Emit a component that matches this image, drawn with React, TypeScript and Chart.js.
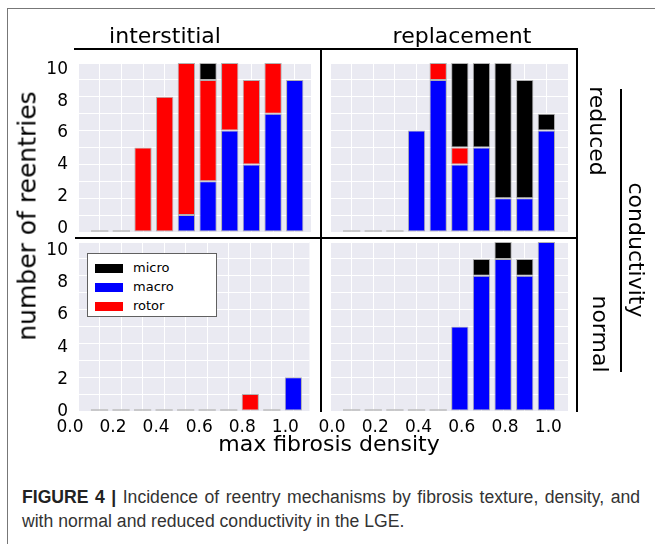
import React, { useEffect, useRef } from 'react';
import { Chart, registerables } from 'chart.js';

Chart.register(...registerables);

// ---------- data ----------
const DENSITIES = [0.1, 0.2, 0.3, 0.4, 0.5, 0.6, 0.7, 0.8, 0.9, 1.0];
const X_GRID_VALUES = [0, 0.1, 0.2, 0.3, 0.4, 0.5, 0.6, 0.7, 0.8, 0.9, 1.0];
const Y_TICK_LABELS = [0, 2, 4, 6, 8, 10];
const LEGEND_NAMES = ['micro', 'macro', 'rotor'];
const LEGEND_COLORS = ['#000000', '#0000ff', '#ff0000'];
const COLUMN_TITLES = ['interstitial', 'replacement'];
const ROW_TITLES = ['reduced', 'normal'];

// interstitial, reduced conductivity
const interReducedMacro = [0, 0, 0, 0, 1, 3, 6, 4, 7, 9];
const interReducedRotor = [0, 0, 5, 8, 9, 6, 4, 5, 3, 0];
const interReducedMicro = [0, 0, 0, 0, 0, 1, 0, 0, 0, 0];
// replacement, reduced conductivity
const replReducedMacro = [0, 0, 0, 6, 9, 4, 5, 2, 2, 6];
const replReducedRotor = [0, 0, 0, 0, 1, 1, 0, 0, 0, 0];
const replReducedMicro = [0, 0, 0, 0, 0, 5, 5, 8, 7, 1];
// interstitial, normal conductivity
const interNormalMacro = [0, 0, 0, 0, 0, 0, 0, 0, 0, 2];
const interNormalRotor = [0, 0, 0, 0, 0, 0, 0, 1, 0, 0];
const interNormalMicro = [0, 0, 0, 0, 0, 0, 0, 0, 0, 0];
// replacement, normal conductivity
const replNormalMacro = [0, 0, 0, 0, 0, 5, 8, 9, 8, 10];
const replNormalRotor = [0, 0, 0, 0, 0, 0, 0, 0, 0, 0];
const replNormalMicro = [0, 0, 0, 0, 0, 0, 1, 1, 1, 0];

// ---------- style ----------
const FONT = '"DejaVu Sans", sans-serif';
const PLOT_BG = '#eaeaf2';
const BAR_EDGE = 'rgba(160,160,160,0.8)';

const bgPlugin = {
  id: 'plotBg',
  beforeDraw(chart: any) {
    const { ctx, chartArea } = chart;
    ctx.save();
    ctx.fillStyle = PLOT_BG;
    ctx.fillRect(chartArea.left, chartArea.top, chartArea.right - chartArea.left, chartArea.bottom - chartArea.top);
    ctx.restore();
  },
};

const zeroPlugin = {
  id: 'zeroBars',
  afterDatasetsDraw(chart: any) {
    const { ctx } = chart;
    const meta = chart.getDatasetMeta(0);
    const y0 = chart.scales.y.getPixelForValue(0);
    ctx.save();
    ctx.strokeStyle = '#bdbdbd';
    ctx.lineWidth = 1.5;
    meta.data.forEach((el: any, i: number) => {
      const total = chart.data.datasets.reduce((s: number, ds: any) => s + ds.data[i].y, 0);
      if (total === 0) {
        ctx.beginPath();
        ctx.moveTo(el.x - el.width / 2, y0 - 1);
        ctx.lineTo(el.x + el.width / 2, y0 - 1);
        ctx.stroke();
      }
    });
    ctx.restore();
  },
};

type PanelDef = {
  area: { l: number; t: number; r: number; b: number };
  macro: number[];
  rotor: number[];
  micro: number[];
  xMax: number;
  showX: boolean;
  showY: boolean;
  leftMargin: number;
  bottomMargin: number;
  xAxisH: number;
  labelOffset: number;
  ylMin: number;
  ylMax: number;
};

const PANELS: PanelDef[] = [
  { area: { l: 78, t: 63, r: 311, b: 232 }, macro: interReducedMacro, rotor: interReducedRotor, micro: interReducedMicro,
    xMax: 1.075, showX: false, showY: true, leftMargin: 60, bottomMargin: 25, xAxisH: 0, labelOffset: 0, ylMin: -0.22, ylMax: 10.4 },
  { area: { l: 330, t: 63, r: 568, b: 232 }, macro: replReducedMacro, rotor: replReducedRotor, micro: replReducedMicro,
    xMax: 1.1, showX: false, showY: false, leftMargin: 20, bottomMargin: 25, xAxisH: 0, labelOffset: 0, ylMin: -0.22, ylMax: 10.4 },
  { area: { l: 78, t: 242, r: 311, b: 411 }, macro: interNormalMacro, rotor: interNormalRotor, micro: interNormalMicro,
    xMax: 1.075, showX: true, showY: true, leftMargin: 60, bottomMargin: 0, xAxisH: 30, labelOffset: -8, ylMin: 0.05, ylMax: 10.5 },
  { area: { l: 330, t: 242, r: 568, b: 411 }, macro: replNormalMacro, rotor: replNormalRotor, micro: replNormalMicro,
    xMax: 1.1, showX: true, showY: false, leftMargin: 20, bottomMargin: 0, xAxisH: 30, labelOffset: 2, ylMin: 0.05, ylMax: 10.5 },
];

const PAD_TOP = 25;
const PAD_RIGHT = 2;

function Panel({ p }: { p: PanelDef }) {
  const ref = useRef<HTMLCanvasElement>(null);
  const left = p.area.l - p.leftMargin;
  const top = p.area.t - PAD_TOP;
  const width = p.area.r + PAD_RIGHT - left;
  const height = p.area.b + p.xAxisH + p.bottomMargin - top;
  const yAxisW = p.showY ? p.leftMargin : 0;

  useEffect(() => {
    const canvas = ref.current!;
    const pts = (arr: number[]) => DENSITIES.map((d, i) => ({ x: d, y: arr[i] }));
    const mk = (label: string, color: string, arr: number[]) => ({
      label,
      data: pts(arr),
      backgroundColor: color,
      borderColor: BAR_EDGE,
      borderWidth: 1,
      borderSkipped: false,
      barPercentage: 0.8,
      categoryPercentage: 1.0,
    });
    const chart = new Chart(canvas, {
      type: 'bar',
      data: {
        datasets: [
          mk('macro', LEGEND_COLORS[1], p.macro),
          mk('rotor', LEGEND_COLORS[2], p.rotor),
          mk('micro', LEGEND_COLORS[0], p.micro),
        ],
      },
      options: {
        animation: false,
        responsive: false,
        events: [],
        layout: {
          padding: { left: p.leftMargin - yAxisW, top: PAD_TOP, right: PAD_RIGHT, bottom: p.bottomMargin },
          autoPadding: false,
        },
        plugins: { legend: { display: false }, tooltip: { enabled: false } },
        scales: {
          x: {
            type: 'linear', min: 0, max: p.xMax, stacked: true, offset: false,
            grid: { offset: false, color: '#ffffff', lineWidth: 1, drawTicks: false },
            border: { display: false },
            afterBuildTicks: (s: any) => { s.ticks = X_GRID_VALUES.map((v) => ({ value: v })); },
            afterFit: (s: any) => { s.height = p.xAxisH; },
            ticks: {
              display: p.showX, autoSkip: false, maxRotation: 0, minRotation: 0, padding: 6,
              labelOffset: p.labelOffset, font: { family: FONT, size: 17 }, color: '#000',
              callback: (v: any) => (Math.round(Number(v) * 10) % 2 === 0 ? Number(v).toFixed(1) : ''),
            },
          },
          y: {
            type: 'linear', min: 0, max: 10, stacked: true, position: 'left', weight: 0,
            grid: { color: '#ffffff', lineWidth: 1, drawTicks: false },
            border: { display: false },
            ticks: { display: false, stepSize: 1 },
            afterFit: (s: any) => { s.width = 0; },
          },
          yl: {
            type: 'linear', position: 'left', weight: 1, display: p.showY, min: p.ylMin, max: p.ylMax,
            grid: { display: false, drawTicks: false },
            border: { display: false },
            afterBuildTicks: (s: any) => { s.ticks = Y_TICK_LABELS.map((v) => ({ value: v })); },
            afterFit: (s: any) => { s.width = yAxisW; },
            ticks: { font: { family: FONT, size: 17 }, color: '#000', padding: 10 },
          },
        },
      } as any,
      plugins: [bgPlugin, zeroPlugin],
    });
    return () => chart.destroy();
  }, []);

  return (
    <canvas
      ref={ref}
      width={width}
      height={height}
      style={{ position: 'absolute', left, top, width, height }}
    />
  );
}

const abs = (x: number, y: number, extra: React.CSSProperties = {}): React.CSSProperties => ({
  position: 'absolute', left: x, top: y, ...extra,
});

function Label({ x, y, text, rot = 0, size = 22 }: { x: number; y: number; text: string; rot?: number; size?: number }) {
  return (
    <div
      style={abs(x, y, {
        transform: `translate(-50%, -50%) rotate(${rot}deg)`,
        fontFamily: FONT, fontSize: size, color: '#000', whiteSpace: 'nowrap', lineHeight: 1,
      })}
    >
      {text}
    </div>
  );
}

function Line({ x, y, w, h }: { x: number; y: number; w: number; h: number }) {
  return <div style={abs(x, y, { width: w, height: h, background: '#000' })} />;
}

export default function App() {
  return (
    <div style={{ position: 'absolute', left: 0, top: 0, width: 655, height: 544, overflow: 'hidden', background: '#fff' }}>
      {/* figure frame */}
      <div style={abs(7, 8, { width: 700, height: 600, borderLeft: '1.5px solid #777', borderTop: '1.5px solid #777' })} />

      {PANELS.map((p, i) => <Panel key={i} p={p} />)}

      {/* facet frame lines */}
      <Line x={74} y={47.5} w={503} h={2} />
      <Line x={75} y={236.5} w={502} h={2} />
      <Line x={320} y={48} w={2} h={364} />
      <Line x={575.5} y={48} w={2} h={364} />
      <Line x={620} y={89} w={1.5} h={283} />

      <Label x={165} y={36} text={COLUMN_TITLES[0]} />
      <Label x={462} y={36} text={COLUMN_TITLES[1]} />
      <Label x={27} y={216} text="number of reentries" rot={-90} size={25} />
      <Label x={329} y={444} text="max fibrosis density" />
      <Label x={597} y={131} text={ROW_TITLES[0]} rot={90} />
      <Label x={600} y={334} text={ROW_TITLES[1]} rot={90} />
      <Label x={636} y={250} text="conductivity" rot={90} />

      {/* legend */}
      <div style={abs(87, 253, { width: 130, height: 64, background: '#fff', border: '1px solid #606060', boxSizing: 'border-box' })}>
        {LEGEND_NAMES.map((n, i) => (
          <div key={n} style={{ position: 'absolute', left: 0, top: 8 + i * 19, height: 12, width: 128 }}>
            <div style={{ position: 'absolute', left: 7, top: 1.5, width: 28, height: 9, background: LEGEND_COLORS[i] }} />
            <div style={{ position: 'absolute', left: 45, top: -2, fontFamily: FONT, fontSize: 13, lineHeight: '16px', color: '#000' }}>{n}</div>
          </div>
        ))}
      </div>

      {/* caption */}
      <div style={abs(22, 485, { fontFamily: '"Liberation Sans Narrow", "Liberation Sans", Arial, sans-serif', fontSize: 17.6, lineHeight: '24px', color: '#333', whiteSpace: 'nowrap' })}>
        <div style={{ width: 618, textAlign: 'justify', textAlignLast: 'justify' as any }}>
          <b style={{ color: '#222' }}>FIGURE 4 |</b> Incidence of reentry mechanisms by fibrosis texture, density, and
        </div>
        <div>with normal and reduced conductivity in the LGE.</div>
      </div>
    </div>
  );
}
